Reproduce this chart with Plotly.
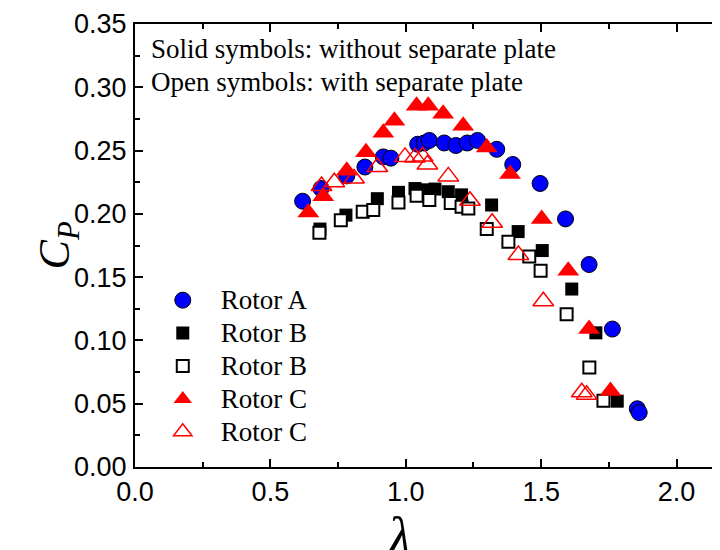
import plotly.graph_objects as go

# Rotor A (solid circles)
a_x = [0.619, 0.687, 0.782, 0.849, 0.917, 0.945, 1.044, 1.068, 1.087, 1.142, 1.185, 1.227, 1.265, 1.336, 1.395, 1.496, 1.590, 1.677, 1.763, 1.855, 1.862]
a_y = [0.210, 0.220, 0.230, 0.237, 0.245, 0.244, 0.255, 0.256, 0.258, 0.256, 0.254, 0.256, 0.258, 0.251, 0.239, 0.224, 0.196, 0.160, 0.109, 0.046, 0.043]

# Rotor B solid squares
bs_x = [0.683, 0.779, 0.895, 0.973, 1.034, 1.077, 1.108, 1.157, 1.206, 1.317, 1.415, 1.504, 1.613, 1.702, 1.781]
bs_y = [0.188, 0.199, 0.212, 0.217, 0.220, 0.219, 0.2196, 0.2175, 0.215, 0.207, 0.186, 0.171, 0.1406, 0.106, 0.052]

# Rotor B open squares
bo_x = [0.681, 0.760, 0.841, 0.880, 0.973, 1.040, 1.087, 1.166, 1.206, 1.231, 1.299, 1.379, 1.456, 1.498, 1.594, 1.678, 1.730]
bo_y = [0.185, 0.195, 0.2017, 0.203, 0.209, 0.2143, 0.211, 0.2085, 0.2056, 0.2043, 0.188, 0.178, 0.1664, 0.155, 0.1206, 0.0787, 0.0524]

# Rotor C solid triangles
cs_x = [0.640, 0.695, 0.782, 0.853, 0.917, 0.958, 1.040, 1.083, 1.138, 1.212, 1.299, 1.385, 1.502, 1.600, 1.677, 1.756]
cs_y = [0.201, 0.214, 0.234, 0.2486, 0.264, 0.2735, 0.2854, 0.2854, 0.279, 0.2696, 0.2525, 0.2314, 0.196, 0.155, 0.109, 0.060]

# Rotor C open triangles
co_x = [0.689, 0.736, 0.809, 0.895, 0.997, 1.034, 1.062, 1.080, 1.157, 1.237, 1.319, 1.416, 1.508, 1.650, 1.668]
co_y = [0.222, 0.225, 0.228, 0.237, 0.245, 0.2446, 0.2454, 0.239, 0.2296, 0.2104, 0.193, 0.1675, 0.131, 0.059, 0.057]

series_names = ["Rotor A", "Rotor B", "Rotor B", "Rotor C", "Rotor C"]

SERIF = "Liberation Serif, Times New Roman, serif"
SANS = "Liberation Sans Narrow, Arial Narrow, Liberation Sans, Arial, sans-serif"


def lg(name):
    return "<span style='font-size:27px'>" + name + "</span>"


fig = go.Figure()
fig.add_trace(go.Scatter(x=a_x, y=a_y, mode="markers", name=lg(series_names[0]),
                         marker=dict(symbol="circle", size=16, color="#0000FF",
                                     line=dict(color="black", width=1))))
fig.add_trace(go.Scatter(x=bs_x, y=bs_y, mode="markers", name=lg(series_names[1]),
                         marker=dict(symbol="square", size=13, color="black",
                                     line=dict(color="black", width=0))))
fig.add_trace(go.Scatter(x=bo_x, y=bo_y, mode="markers", name=lg(series_names[2]),
                         marker=dict(symbol="square", size=12, color="white",
                                     line=dict(color="black", width=2))))
fig.add_trace(go.Scatter(x=cs_x, y=cs_y, mode="markers", name=lg(series_names[3]),
                         marker=dict(symbol="triangle-up", size=19, color="red",
                                     line=dict(color="red", width=0))))
fig.add_trace(go.Scatter(x=co_x, y=co_y, mode="markers", name=lg(series_names[4]),
                         marker=dict(symbol="triangle-up-open", size=18, color="red",
                                     line=dict(color="red", width=1.5))))

fig.update_layout(
    width=720, height=550,
    margin=dict(l=127, r=0, t=16, b=91),
    paper_bgcolor="white", plot_bgcolor="white",
    showlegend=True,
    legend=dict(x=0.0165, y=0.425, xanchor="left", yanchor="top",
                bgcolor="rgba(0,0,0,0)", itemwidth=66,
                font=dict(family=SERIF, size=23, color="black"),
                tracegroupgap=0),
    annotations=[
        dict(text="Solid symbols: without separate plate", xref="paper", yref="paper",
             x=0.0236, y=0.982, xanchor="left", yanchor="top", showarrow=False,
             font=dict(family=SERIF, size=27, color="black")),
        dict(text="Open symbols: with separate plate", xref="paper", yref="paper",
             x=0.0236, y=0.9075, xanchor="left", yanchor="top", showarrow=False,
             font=dict(family=SERIF, size=27, color="black")),
        dict(text="<i>C<sub>P</sub></i>", xref="paper", yref="paper",
             x=-0.13, y=0.5, xanchor="center", yanchor="middle", showarrow=False,
             textangle=-90, font=dict(family=SERIF, size=44, color="black")),
        dict(text="<i>λ</i>", xref="paper", yref="paper",
             x=0.445, y=-0.085, xanchor="center", yanchor="top", showarrow=False,
             font=dict(family=SERIF, size=54, color="black")),
    ],
)

fig.update_xaxes(range=[0, 2.19], tickmode="linear", tick0=0, dtick=0.5,
                 tickformat=".1f", ticks="inside", ticklen=8, tickwidth=1.5,
                 tickcolor="black", showline=True, linecolor="black", linewidth=2,
                 mirror="ticks", showgrid=False, zeroline=False,
                 minor=dict(dtick=0.25, ticks="inside", ticklen=5, tickwidth=1.5,
                            tickcolor="black", showgrid=False),
                 tickfont=dict(family=SANS, size=27, color="black"),
                 ticklabelstandoff=0)
fig.update_yaxes(range=[0, 0.35], tickmode="linear", tick0=0, dtick=0.05,
                 tickformat=".2f", ticks="inside", ticklen=8, tickwidth=1.5,
                 tickcolor="black", showline=True, linecolor="black", linewidth=2,
                 mirror=False, showgrid=False, zeroline=False,
                 minor=dict(dtick=0.025, ticks="inside", ticklen=5, tickwidth=1.5,
                            tickcolor="black", showgrid=False),
                 tickfont=dict(family=SANS, size=27, color="black"),
                 ticklabelstandoff=1)

fig.write_html("out.html")
